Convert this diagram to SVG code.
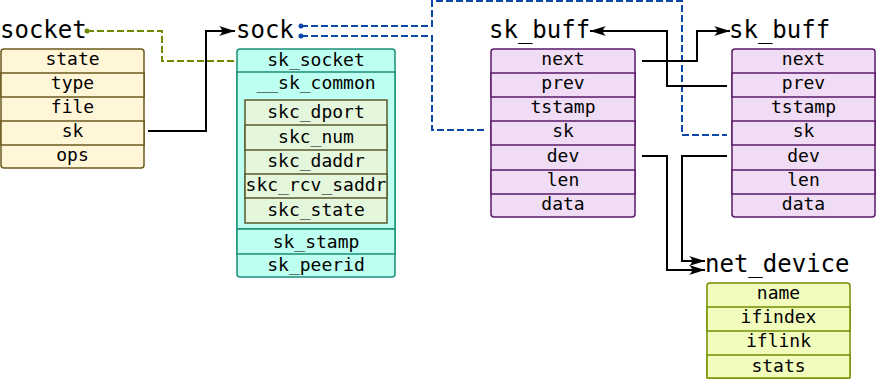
<svg xmlns="http://www.w3.org/2000/svg" width="876" height="379" viewBox="0 0 876 379">
<style>
text{font-family:"DejaVu Sans Mono","Liberation Mono",monospace;fill:#000}
.t{font-size:24px}
.f{font-size:18px;text-anchor:middle}
.soc rect{fill:#fff6d8;stroke:#6b5a1e;stroke-width:1.5}
.sok rect{fill:#bdfff0;stroke:#1a8f78;stroke-width:1.5}
.inn rect{fill:#e4f6dc;stroke:#585a2c;stroke-width:1.5}
.skb rect{fill:#f0dcf4;stroke:#5a1a6a;stroke-width:1.5}
.net rect{fill:#f2fcbc;stroke:#6f8f00;stroke-width:1.5}
.c{fill:none;stroke:#000;stroke-width:2;marker-end:url(#ar)}
.dg{fill:none;stroke:#6b8a00;stroke-width:2;stroke-dasharray:7,3;marker-start:url(#dg)}
.db{fill:none;stroke:#0d47a8;stroke-width:2;stroke-dasharray:7,3;marker-start:url(#db)}
</style>
<defs>
<marker id="ar" markerUnits="userSpaceOnUse" markerWidth="20" markerHeight="12" viewBox="-17 -6 18 12" refX="0" refY="0" orient="auto"><path d="M0,0 L-16,-5 C-12,-2 -12,2 -16,5 Z" fill="#000"/></marker>
<marker id="dg" markerUnits="userSpaceOnUse" markerWidth="6" markerHeight="6" viewBox="-3 -3 6 6" refX="0" refY="0"><circle r="2.5" fill="#6b8a00"/></marker>
<marker id="db" markerUnits="userSpaceOnUse" markerWidth="6" markerHeight="6" viewBox="-3 -3 6 6" refX="0" refY="0"><circle r="2.5" fill="#0d47a8"/></marker>
</defs>
<g id="connectors">
<path class="dg" d="M87,31 H162 V61 H237"/>
<path class="c" d="M148,131 H206 V31 H235"/>
<path class="db" d="M301,26 H432 V1 H682 V135 H727"/>
<path class="db" d="M301,36 H432 V130 H487"/>
<path class="c" d="M642,61 H697 V31 H730"/>
<path class="c" d="M727,86 H667 V31 H590"/>
<path class="c" d="M642,156 H667 V270 H705"/>
<path class="c" d="M727,156 H682 V261 H705"/>
</g>
<g id="socket" class="soc">
<text class="t" x="0" y="38">socket</text>
<rect x="1" y="49" width="143" height="119" rx="3"/>
<rect x="1" y="73" width="143" height="24"/>
<rect x="1" y="121" width="143" height="24"/>
<text class="f" x="72.5" y="65">state</text>
<text class="f" x="72.5" y="89">type</text>
<text class="f" x="72.5" y="113">file</text>
<text class="f" x="72.5" y="137">sk</text>
<text class="f" x="72.5" y="161">ops</text>
</g>
<g id="sock" class="sok">
<text class="t" x="236" y="38">sock</text>
<rect x="237" y="49" width="158" height="228" rx="3"/>
<rect x="237" y="72" width="158" height="157"/>
<rect x="237" y="229" width="158" height="25"/>
<text class="f" x="316" y="66">sk_socket</text>
<text class="f" x="316" y="89">__sk_common</text>
<text class="f" x="316" y="248">sk_stamp</text>
<text class="f" x="316" y="271">sk_peerid</text>
<g id="sk_common" class="inn">
<rect x="245" y="100" width="142" height="123"/>
<rect x="245" y="125" width="142" height="25"/>
<rect x="245" y="174" width="142" height="24"/>
<text class="f" x="316" y="118">skc_dport</text>
<text class="f" x="316" y="143">skc_num</text>
<text class="f" x="316" y="167">skc_daddr</text>
<text class="f" x="316" y="191">skc_rcv_saddr</text>
<text class="f" x="316" y="216">skc_state</text>
</g>
</g>
<g id="sk_buff1" class="skb">
<text class="t" x="489" y="38">sk_buff</text>
<rect x="491" y="49" width="144" height="168" rx="3"/>
<rect x="491" y="73" width="144" height="24"/>
<rect x="491" y="121" width="144" height="24"/>
<rect x="491" y="170" width="144" height="24"/>
<text class="f" x="563" y="65">next</text>
<text class="f" x="563" y="89">prev</text>
<text class="f" x="563" y="113">tstamp</text>
<text class="f" x="563" y="137">sk</text>
<text class="f" x="563" y="162">dev</text>
<text class="f" x="563" y="186">len</text>
<text class="f" x="563" y="210">data</text>
</g>
<g id="sk_buff2" class="skb">
<text class="t" x="729" y="38">sk_buff</text>
<rect x="732" y="49" width="143" height="168" rx="3"/>
<rect x="732" y="73" width="143" height="24"/>
<rect x="732" y="121" width="143" height="24"/>
<rect x="732" y="170" width="143" height="24"/>
<text class="f" x="803.5" y="65">next</text>
<text class="f" x="803.5" y="89">prev</text>
<text class="f" x="803.5" y="113">tstamp</text>
<text class="f" x="803.5" y="137">sk</text>
<text class="f" x="803.5" y="162">dev</text>
<text class="f" x="803.5" y="186">len</text>
<text class="f" x="803.5" y="210">data</text>
</g>
<g id="net_device" class="net">
<text class="t" x="705" y="272">net_device</text>
<rect x="707" y="283" width="143" height="95" rx="3"/>
<rect x="707" y="307" width="143" height="24"/>
<rect x="707" y="355" width="143" height="23"/>
<text class="f" x="778.5" y="299">name</text>
<text class="f" x="778.5" y="323">ifindex</text>
<text class="f" x="778.5" y="347">iflink</text>
<text class="f" x="778.5" y="372">stats</text>
</g>
</svg>
